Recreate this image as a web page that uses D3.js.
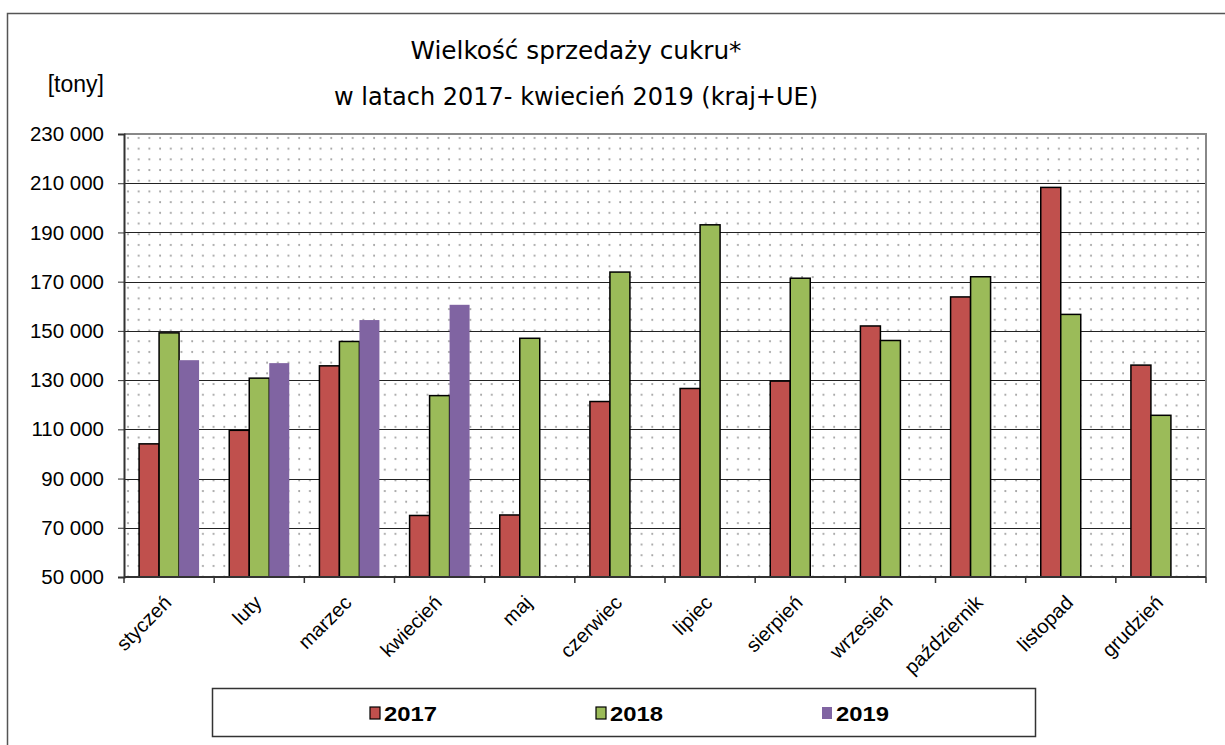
<!DOCTYPE html>
<html>
<head>
<meta charset="utf-8">
<script src="https://cdn.jsdelivr.net/npm/d3@7"></script>
<style>
  body { margin: 0; background: #fff; }
  svg { display: block; }
</style>
</head>
<body>
<div id="chart"></div>
<script>
// Months (categories) and sales per year [tonnes]
const months = ["styczeń", "luty", "marzec", "kwiecień", "maj", "czerwiec",
  "lipiec", "sierpień", "wrzesień", "październik", "listopad", "grudzień"];
const years = ["2017", "2018", "2019"];
const sales2017 = [104100, 109600, 135800, 75000, 75200, 121300, 126600, 129600, 152000, 163800, 208300, 136100];
const sales2018 = [149200, 130800, 145700, 123700, 147000, 173900, 193100, 171400, 146100, 172000, 156700, 115700];
const sales2019 = [138100, 136900, 154400, 160600, null, null, null, null, null, null, null, null];
const yTickValues = [50000, 70000, 90000, 110000, 130000, 150000, 170000, 190000, 210000, 230000];

const colors = { "2017": "#C0504D", "2018": "#9BBB59", "2019": "#8064A2" };
const outlined = { "2017": true, "2018": true, "2019": false };

const W = 1225, H = 745;
const plot = { left: 124, right: 1206, top: 134, bottom: 577 };

const svg = d3.select("#chart").append("svg")
  .attr("width", W).attr("height", H)
  .style("font-family", "'Liberation Sans', Arial, sans-serif");

// Outer chart frame
svg.append("rect")
  .attr("x", 7.5).attr("y", 13.5)
  .attr("width", 1260).attr("height", 800)
  .attr("fill", "#fff").attr("stroke", "#555").attr("stroke-width", 1.5);

// Dotted background pattern for the plot area
const defs = svg.append("defs");
const pat = defs.append("pattern")
  .attr("id", "dots")
  .attr("patternUnits", "userSpaceOnUse")
  .attr("x", plot.left).attr("y", plot.top)
  .attr("width", 10.7).attr("height", 10.7);
pat.append("rect").attr("width", 10.7).attr("height", 10.7).attr("fill", "#fff");
pat.append("circle").attr("cx", 4).attr("cy", 4).attr("r", 1).attr("fill", "#9a9a9a");

svg.append("rect")
  .attr("x", plot.left).attr("y", plot.top)
  .attr("width", plot.right - plot.left).attr("height", plot.bottom - plot.top)
  .attr("fill", "url(#dots)");

// Scales
const y = d3.scaleLinear().domain([50000, 230000]).range([plot.bottom, plot.top]);
const x0 = d3.scaleBand().domain(months).range([plot.left, plot.right]);
const groupW = 60;
const x1 = d3.scaleBand().domain(years)
  .range([(x0.bandwidth() - groupW) / 2, (x0.bandwidth() + groupW) / 2]);

const fmt = d3.formatLocale({ decimal: ",", thousands: " ", grouping: [3], currency: ["", ""] }).format(",");

// Horizontal gridlines
svg.append("g")
  .selectAll("line")
  .data(yTickValues.filter(v => v > 50000 && v < 230000))
  .join("line")
  .attr("x1", plot.left).attr("x2", plot.right)
  .attr("y1", d => Math.round(y(d)) + 0.5).attr("y2", d => Math.round(y(d)) + 0.5)
  .attr("stroke", "#222").attr("stroke-width", 1);

// Plot border (top/right grey)
svg.append("path")
  .attr("d", `M${plot.left},${plot.top}H${plot.right}V${plot.bottom}`)
  .attr("fill", "none").attr("stroke", "#888").attr("stroke-width", 2);

// Bars
const series = { "2017": sales2017, "2018": sales2018, "2019": sales2019 };
const barData = [];
months.forEach((m, i) => {
  years.forEach(yr => {
    const v = series[yr][i];
    if (v != null) barData.push({ month: m, year: yr, value: v });
  });
});

svg.append("g")
  .selectAll("rect")
  .data(barData)
  .join("rect")
  .attr("x", d => x0(d.month) + x1(d.year))
  .attr("y", d => y(d.value))
  .attr("width", x1.bandwidth())
  .attr("height", d => plot.bottom - y(d.value))
  .attr("fill", d => colors[d.year])
  .attr("stroke", d => outlined[d.year] ? "#000" : "none")
  .attr("stroke-width", 1.5);

// Y axis
const yAxis = svg.append("g")
  .attr("transform", `translate(${plot.left},0)`)
  .call(d3.axisLeft(y).tickValues(yTickValues).tickFormat(fmt).tickSize(6).tickPadding(14));
yAxis.select(".domain").attr("stroke", "#333").attr("stroke-width", 2);
yAxis.selectAll(".tick line").attr("stroke", "#333");
yAxis.selectAll(".tick text")
  .attr("font-size", "20.5px").attr("fill", "#000")
  .style("font-family", "'Liberation Sans', Arial, sans-serif");

// X axis line and category boundary ticks
svg.append("line")
  .attr("x1", plot.left).attr("x2", plot.right)
  .attr("y1", plot.bottom).attr("y2", plot.bottom)
  .attr("stroke", "#333").attr("stroke-width", 2);

const bounds = months.map(m => x0(m)).concat([plot.right]);
svg.append("g")
  .selectAll("line")
  .data(bounds)
  .join("line")
  .attr("x1", d => d).attr("x2", d => d)
  .attr("y1", plot.bottom).attr("y2", plot.bottom + 6)
  .attr("stroke", "#333").attr("stroke-width", 1.5);

// Rotated month labels
svg.append("g")
  .selectAll("text")
  .data(months)
  .join("text")
  .attr("transform", d => `translate(${x0(d) + x0.bandwidth() / 2 + 3.5},604) rotate(-45)`)
  .attr("text-anchor", "end")
  .attr("font-size", "20px")
  .attr("fill", "#000")
  .text(d => d);

// Unit label
svg.append("text")
  .attr("x", 104).attr("y", 92)
  .attr("text-anchor", "end")
  .attr("font-size", "23px")
  .text("[tony]");

// Title
const titleLines = ["Wielkość sprzedaży cukru*", "w latach 2017- kwiecień 2019 (kraj+UE)"];
const titleWidths = [331, 484];
svg.append("g")
  .selectAll("text")
  .data(titleLines)
  .join("text")
  .attr("x", 576)
  .attr("y", (d, i) => 59 + i * 46)
  .attr("text-anchor", "middle")
  .attr("font-size", "24px")
  .attr("textLength", (d, i) => titleWidths[i])
  .attr("lengthAdjust", "spacingAndGlyphs")
  .style("font-family", "'Comic Sans MS', 'DejaVu Sans', sans-serif")
  .text(d => d);

// Legend
const legend = svg.append("g");
legend.append("rect")
  .attr("x", 212.5).attr("y", 688.5)
  .attr("width", 823).attr("height", 48)
  .attr("fill", "#fff").attr("stroke", "#333").attr("stroke-width", 1.5);

const legendX = d3.scalePoint().domain(years).range([370, 822]);
const items = legend.selectAll("g.item")
  .data(years)
  .join("g")
  .attr("class", "item")
  .attr("transform", d => `translate(${legendX(d)},0)`);
items.append("rect")
  .attr("x", 0).attr("y", 707)
  .attr("width", 10).attr("height", 12)
  .attr("fill", d => colors[d])
  .attr("stroke", d => outlined[d] ? "#000" : "none")
  .attr("stroke-width", 1.2);
items.append("text")
  .attr("x", 14).attr("y", 721)
  .attr("font-size", "21px")
  .attr("font-weight", "bold")
  .attr("textLength", 53)
  .attr("lengthAdjust", "spacingAndGlyphs")
  .text(d => d);
</script>
</body>
</html>
